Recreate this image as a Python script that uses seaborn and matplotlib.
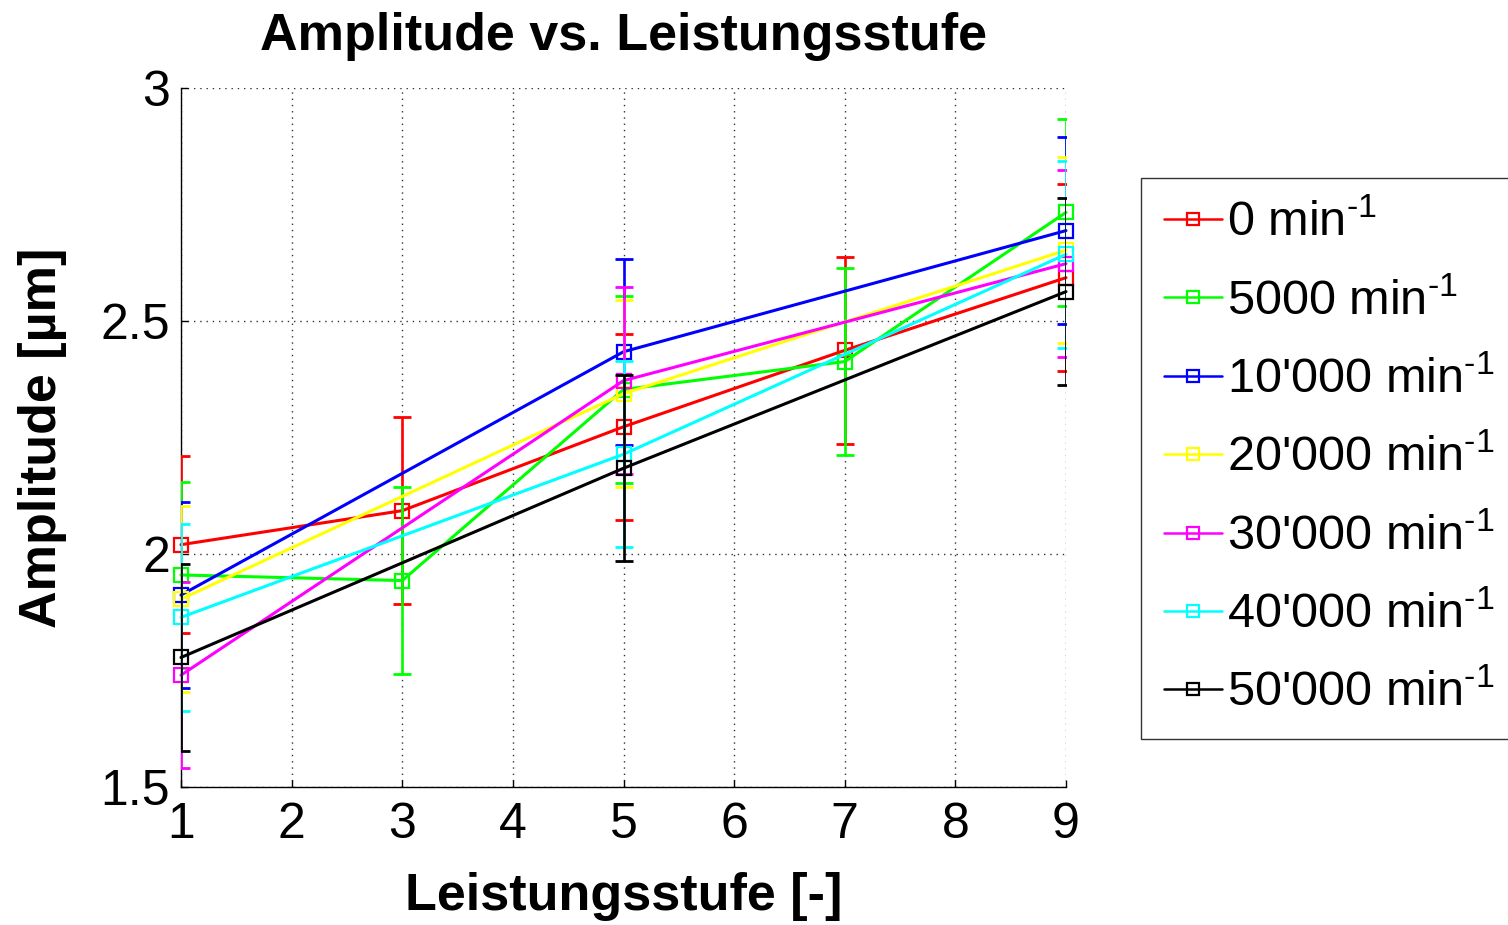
import matplotlib
matplotlib.use("Agg")
import matplotlib.pyplot as plt
import seaborn as sns
import pandas as pd

# ---- data ----
series_names = ["0 min$^{\\text{-1}}$", "5000 min$^{\\text{-1}}$", "10'000 min$^{\\text{-1}}$",
                "20'000 min$^{\\text{-1}}$", "30'000 min$^{\\text{-1}}$",
                "40'000 min$^{\\text{-1}}$", "50'000 min$^{\\text{-1}}$"]
series_colors = ["#ff0000", "#00ff00", "#0000ff", "#ffff00", "#ff00ff", "#00ffff", "#000000"]

x_red = [1, 3, 5, 7, 9]
y_red = [2.02, 2.093, 2.273, 2.437, 2.593]
e_red = [0.19, 0.2, 0.2, 0.2, 0.2]

x_green = [1, 3, 5, 7, 9]
y_green = [1.955, 1.943, 2.353, 2.413, 2.733]
e_green = [0.2, 0.2, 0.2, 0.2, 0.2]

x_blue = [1, 5, 9]
y_blue = [1.912, 2.434, 2.694]
e_blue = [0.2, 0.2, 0.2]

x_yellow = [1, 5, 9]
y_yellow = [1.903, 2.344, 2.652]
e_yellow = [0.2, 0.2, 0.2]

x_magenta = [1, 5, 9]
y_magenta = [1.740, 2.372, 2.623]
e_magenta = [0.2, 0.2, 0.2]

x_cyan = [1, 5, 9]
y_cyan = [1.864, 2.214, 2.643]
e_cyan = [0.2, 0.2, 0.2]

x_black = [1, 5, 9]
y_black = [1.778, 2.184, 2.563]
e_black = [0.2, 0.2, 0.2]

xs = [x_red, x_green, x_blue, x_yellow, x_magenta, x_cyan, x_black]
ys = [y_red, y_green, y_blue, y_yellow, y_magenta, y_cyan, y_black]
es = [e_red, e_green, e_blue, e_yellow, e_magenta, e_cyan, e_black]

x_ticks = [1, 2, 3, 4, 5, 6, 7, 8, 9]
y_ticks = [1.5, 2, 2.5, 3]
y_ticklabels = ["1.5", "2", "2.5", "3"]

title = "Amplitude vs. Leistungsstufe"
xlabel = "Leistungsstufe [-]"
ylabel = "Amplitude [µm]"

# ---- style ----
sns.set_theme(style="white")
plt.rcParams["font.family"] = ["Liberation Sans", "DejaVu Sans"]
plt.rcParams["mathtext.fontset"] = "custom"
plt.rcParams["mathtext.rm"] = "Liberation Sans"
plt.rcParams["mathtext.it"] = "Liberation Sans"
plt.rcParams["mathtext.default"] = "regular"
plt.rcParams["text.color"] = "black"
plt.rcParams["axes.labelcolor"] = "black"
plt.rcParams["xtick.color"] = "black"
plt.rcParams["ytick.color"] = "black"

fig = plt.figure(figsize=(15.08, 9.25), dpi=100)
ax = fig.add_axes([181 / 1508, 1 - 787 / 925, 885 / 1508, 699 / 925])

rows = []
for name, xv, yv, ev in zip(series_names, xs, ys, es):
    for a, b, c in zip(xv, yv, ev):
        rows.append({"series": name, "x": a, "y": b, "err": c})
df = pd.DataFrame(rows)

handles = []
for i, (name, col) in enumerate(zip(series_names, series_colors)):
    sub = df[df["series"] == name]
    ax.errorbar(sub["x"], sub["y"], yerr=sub["err"], fmt="none", ecolor=col,
                elinewidth=1.9, capsize=6.5, capthick=2.0, zorder=3 + 2 * i)
    n_before = len(ax.lines)
    sns.lineplot(data=sub, x="x", y="y", ax=ax, color=col, marker="s", sort=False,
                 markersize=10.5, markerfacecolor="none", markeredgecolor=col,
                 markeredgewidth=1.6, linewidth=2.2, errorbar=None, legend=False,
                 zorder=4 + 2 * i)
    ln = ax.lines[n_before]
    ln.set_clip_on(False)
    handles.append(ln)

ax.set_xlim(1, 9)
ax.set_ylim(1.5, 3)
ax.set_xticks(x_ticks)
ax.set_xticklabels([str(t) for t in x_ticks])
ax.set_yticks(y_ticks)
ax.set_yticklabels(y_ticklabels)

ax.grid(True, linestyle=(0, (1, 3.5)), color="#333333", linewidth=1.0)
for s in ["top", "right"]:
    ax.spines[s].set_visible(False)
for s in ["left", "bottom"]:
    ax.spines[s].set_color("black")
    ax.spines[s].set_linewidth(1.0)
ax.tick_params(axis="both", direction="in", length=5, width=1, colors="black",
               labelsize=36, left=True, bottom=True, top=False, right=False)
ax.tick_params(axis="x", pad=11)
ax.tick_params(axis="y", pad=8)

ax.set_title(title, fontsize=37.5, fontweight="bold", pad=27)
ax.set_xlabel(xlabel, fontsize=37.5, fontweight="bold", labelpad=17)
ax.set_ylabel(ylabel, fontsize=37.5, fontweight="bold", labelpad=24)

leg = fig.legend(handles, series_names, loc="upper left",
                 bbox_to_anchor=(1141 / 1508, 1 - 178 / 925), fontsize=35,
                 frameon=True, fancybox=False, edgecolor="black",
                 handlelength=1.2, handletextpad=0.1, labelspacing=0.68,
                 borderpad=0.47, borderaxespad=0.0, markerscale=0.85)
leg.get_frame().set_linewidth(1.0)
for lh in leg.legend_handles:
    lh.set_linewidth(1.8)

fig.savefig("out.png", dpi=100)
